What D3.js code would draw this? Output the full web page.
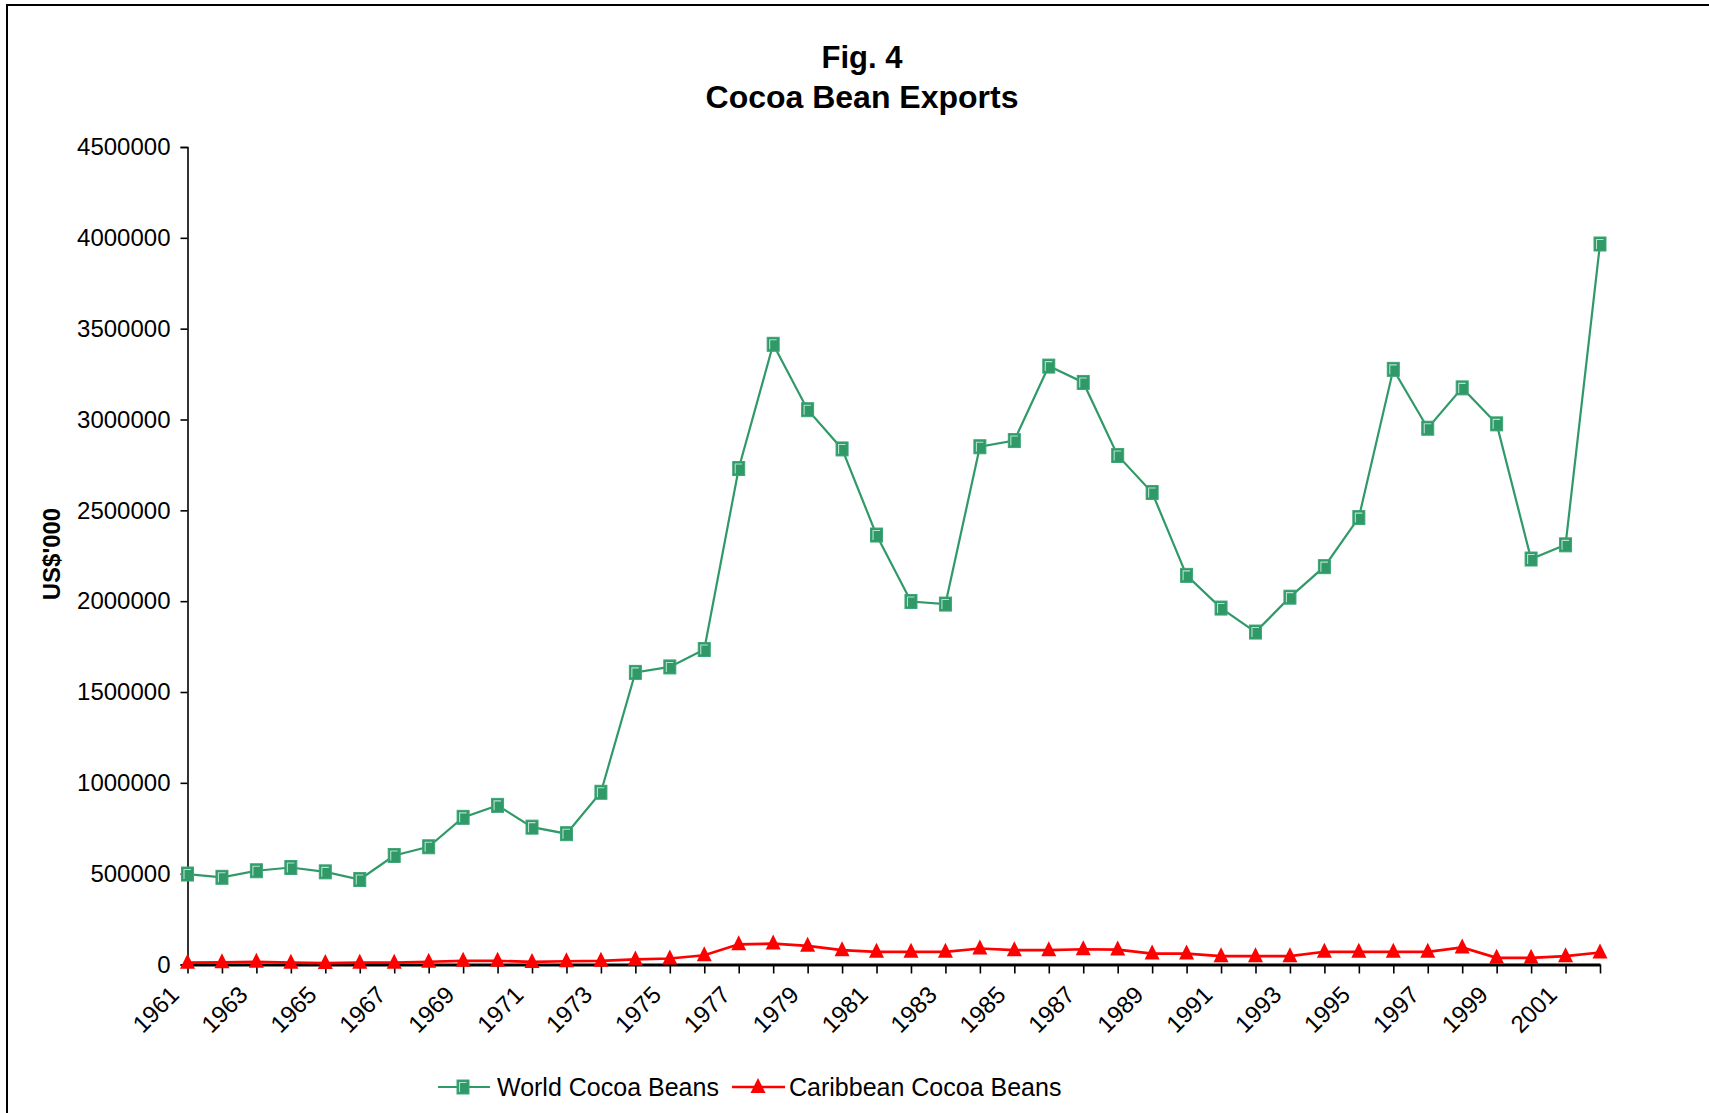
<!DOCTYPE html>
<html>
<head>
<meta charset="utf-8">
<script src="https://cdn.jsdelivr.net/npm/d3@7"></script>
<style>
  html, body { margin: 0; padding: 0; background: #fff; }
  svg { display: block; }
  text { font-family: "Liberation Sans", Arial, sans-serif; fill: #000; }
</style>
</head>
<body>
<svg id="chart" width="1709" height="1113"></svg>
<script>
// Export years (every point on the axis is one year)
const years = [1961,1962,1963,1964,1965,1966,1967,1968,1969,1970,
               1971,1972,1973,1974,1975,1976,1977,1978,1979,1980,
               1981,1982,1983,1984,1985,1986,1987,1988,1989,1990,
               1991,1992,1993,1994,1995,1996,1997,1998,1999,2000,
               2001,2002];

// World cocoa bean exports, US$'000
const worldExports = [498000, 480000, 516000, 534000, 510000, 468000, 600000, 648000, 810000, 876000,
                      756000, 720000, 948000, 1608000, 1638000, 1734000, 2730000, 3414000, 3054000, 2838000,
                      2364000, 1998000, 1984000, 2850000, 2884000, 3294000, 3204000, 2802000, 2598000, 2142000,
                      1962000, 1830000, 2022000, 2190000, 2460000, 3276000, 2952000, 3174000, 2976000, 2232000,
                      2310000, 3966000];

// Caribbean cocoa bean exports, US$'000
const caribbeanExports = [10000, 12000, 15000, 10000, 8000, 10000, 10000, 15000, 20000, 20000,
                          14000, 18000, 20000, 28000, 33000, 51000, 111000, 115000, 103000, 79000,
                          70000, 70000, 70000, 88000, 79000, 79000, 84000, 82000, 60000, 60000,
                          46000, 46000, 46000, 70000, 70000, 70000, 70000, 94000, 37000, 37000,
                          46000, 66000];

// Axis tick values
const yTicks = [0, 500000, 1000000, 1500000, 2000000, 2500000, 3000000, 3500000, 4000000, 4500000];
const xLabelYears = [1961,1963,1965,1967,1969,1971,1973,1975,1977,1979,1981,1983,1985,1987,1989,1991,1993,1995,1997,1999,2001];

const titleLines = ["Fig. 4", "Cocoa Bean Exports"];
const yTitle = "US$'000";
const seriesNames = ["World Cocoa Beans", "Caribbean Cocoa Beans"];

const GREEN = "#2f9a68";
const RED = "#ff0000";

const svg = d3.select("#chart");

// outer frame (right and bottom edges run past the page)
svg.append("rect")
  .attr("x", 7).attr("y", 5)
  .attr("width", 1800).attr("height", 1200)
  .attr("fill", "none").attr("stroke", "#000").attr("stroke-width", 2);

// title
svg.append("text").attr("x", 862).attr("y", 68)
  .attr("text-anchor", "middle").attr("font-weight", "bold").attr("font-size", 31)
  .text(titleLines[0]);
svg.append("text").attr("x", 862).attr("y", 108)
  .attr("text-anchor", "middle").attr("font-weight", "bold").attr("font-size", 32)
  .text(titleLines[1]);

const plotLeft = 187.5, plotRight = 1600, plotTop = 147, plotBottom = 964.5;

const x = d3.scaleLinear().domain([years[0], years[years.length - 1]]).range([plotLeft, plotRight]);
const y = d3.scaleLinear().domain([0, 4500000]).range([plotBottom, plotTop]);

// y axis
const yAxis = svg.append("g").attr("transform", `translate(${plotLeft},0)`)
  .call(d3.axisLeft(y).tickValues(yTicks).tickFormat(d3.format("d")).tickSize(7).tickPadding(10));
yAxis.select(".domain").attr("stroke", "#000").attr("stroke-width", 1.6);
yAxis.selectAll(".tick line").attr("stroke", "#000").attr("stroke-width", 1.6);
yAxis.selectAll(".tick text")
  .attr("font-size", 24).attr("font-family", "Liberation Sans, Arial, sans-serif")
  .attr("fill", "#000");

// y axis title
svg.append("text")
  .attr("transform", `translate(60,554) rotate(-90)`)
  .attr("text-anchor", "middle").attr("font-weight", "bold").attr("font-size", 24)
  .text(yTitle);

// x axis
const xAxis = svg.append("g").attr("transform", `translate(0,${plotBottom})`)
  .call(d3.axisBottom(x).tickValues(years).tickFormat("").tickSize(9).tickSizeOuter(0));
xAxis.select(".domain").attr("stroke", "#000").attr("stroke-width", 3);
xAxis.selectAll(".tick line").attr("stroke", "#000").attr("stroke-width", 1.6);

// rotated year labels
svg.append("g").selectAll("text")
  .data(xLabelYears)
  .enter().append("text")
  .attr("transform", d => `translate(${x(d) - 19},${plotBottom + 20}) rotate(-45)`)
  .attr("text-anchor", "end").attr("dy", "0.7em")
  .attr("font-size", 24)
  .text(d => d);

// series lines
const line = d3.line().x((d, i) => x(years[i])).y(d => y(d));

svg.append("path").datum(caribbeanExports)
  .attr("d", line).attr("fill", "none").attr("stroke", RED).attr("stroke-width", 2.7);
svg.append("path").datum(worldExports)
  .attr("d", line).attr("fill", "none").attr("stroke", GREEN).attr("stroke-width", 2.2);

// marker helpers
function squareMarker(g, cx, cy) {
  g.append("rect").attr("x", cx - 6).attr("y", cy - 7).attr("width", 12).attr("height", 14)
    .attr("fill", GREEN).attr("stroke", "#3ea577").attr("stroke-width", 1);
  g.append("path")
    .attr("d", `M${cx - 3.5},${cy + 5} V${cy - 4.5} H${cx + 3.5}`)
    .attr("fill", "none").attr("stroke", "#b9e2cc").attr("stroke-width", 1.1);
}
function triangleMarker(g, cx, cy) {
  g.append("path")
    .attr("d", `M${cx},${cy - 9} L${cx + 7.5},${cy + 6} L${cx - 7.5},${cy + 6} Z`)
    .attr("fill", RED);
}

const worldMarks = svg.append("g");
worldExports.forEach((v, i) => squareMarker(worldMarks, x(years[i]), y(v)));
const caribMarks = svg.append("g");
caribbeanExports.forEach((v, i) => triangleMarker(caribMarks, x(years[i]), y(v)));

// legend
const legY = 1087;
const leg = svg.append("g");
leg.append("line").attr("x1", 438).attr("x2", 490).attr("y1", legY).attr("y2", legY)
  .attr("stroke", GREEN).attr("stroke-width", 2.2);
squareMarker(leg, 463, legY);
leg.append("text").attr("x", 497).attr("y", legY).attr("dy", "0.35em")
  .attr("font-size", 25).text(seriesNames[0]);

leg.append("line").attr("x1", 732).attr("x2", 785).attr("y1", legY).attr("y2", legY)
  .attr("stroke", RED).attr("stroke-width", 2.7);
triangleMarker(leg, 758, legY);
leg.append("text").attr("x", 789).attr("y", legY).attr("dy", "0.35em")
  .attr("font-size", 25).text(seriesNames[1]);
</script>
</body>
</html>
